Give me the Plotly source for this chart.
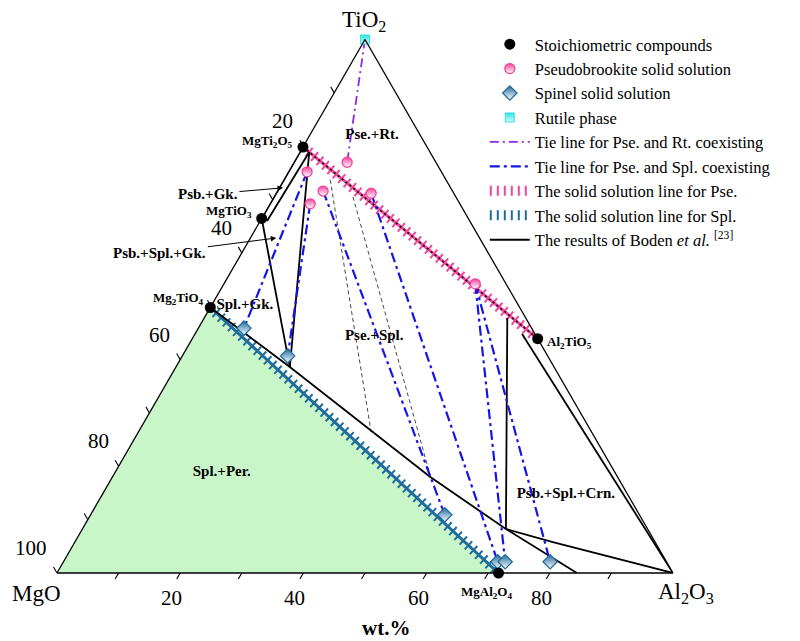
import math
import plotly.graph_objects as go

# ---------------- data (wt% TiO2, MgO, Al2O3) ----------------
# stoichiometric compounds
compound_names = ["MgTi<sub>2</sub>O<sub>5</sub>", "MgTiO<sub>3</sub>", "Mg<sub>2</sub>TiO<sub>4</sub>",
                  "Al<sub>2</sub>TiO<sub>5</sub>", "MgAl<sub>2</sub>O<sub>4</sub>"]
compound_tio2 = [79.85, 66.46, 49.77, 43.93, 0.0]
compound_mgo = [20.15, 33.54, 50.23, 0.0, 28.33]
compound_al2o3 = [0.0, 0.0, 0.0, 56.07, 71.67]

# pseudobrookite solid solution compositions
pse_tio2 = [77.0, 75.2, 71.6, 69.2, 71.2, 54.2]
pse_mgo = [14.4, 21.8, 21.0, 24.3, 13.4, 5.0]
pse_al2o3 = [8.6, 3.0, 7.4, 6.5, 15.4, 40.8]

# spinel solid solution compositions
spl_tio2 = [45.9, 40.7, 10.9, 2.1, 2.1, 2.1]
spl_mgo = [46.7, 42.2, 31.6, 27.4, 26.2, 18.9]
spl_al2o3 = [7.4, 17.1, 57.5, 70.5, 71.7, 79.0]

# rutile phase
rt_tio2 = [100.0]
rt_mgo = [0.0]
rt_al2o3 = [0.0]

# tie lines Pse.-Spl. (index into pse_*, index into spl_*)
tie_pse_idx = [1, 3, 2, 4, 5, 5]
tie_spl_idx = [0, 1, 2, 3, 4, 5]

# phase boundaries after Boden et al. (polylines)
boden_tio2 = [[79.85, 66.46], [78.9, 66.0], [66.46, 38.6], [78.9, 38.6],
              [49.77, 38.6, 18.0, 8.25, 0.0], [47.8, 8.25], [8.25, 5.8, 0.0], [44.8, 0.0]]
boden_mgo = [[20.15, 33.54], [19.6, 32.9], [33.54, 42.9], [19.6, 42.9],
             [50.23, 42.9, 30.4, 23.0, 15.6], [3.0, 23.0], [23.0, 16.6, 0.0], [2.1, 0.0]]
boden_al2o3 = [[0.0, 0.0], [1.5, 1.1], [0.0, 18.5], [1.5, 18.5],
               [0.0, 18.5, 51.6, 68.75, 84.4], [49.2, 68.75], [68.75, 77.6, 100.0], [53.1, 100.0]]

# thin dashed guide lines inside Pse.+Spl.
guide_tio2 = [[73.7, 26.4], [70.5, 17.8]]
guide_mgo = [[18.8, 35.8], [16.7, 30.4]]
guide_al2o3 = [[7.5, 37.8], [12.8, 51.8]]

# axis ticks and labels
mgo_tick_vals = [10, 20, 30, 40, 50, 60, 70, 80, 90, 100]
mgo_label_vals = [20, 40, 60, 80, 100]
al_tick_vals = [10, 20, 30, 40, 50, 60, 70, 80, 90]
al_label_vals = [20, 40, 60, 80]

# ---------------- styling ----------------
SERIF = "Liberation Serif, Times New Roman, serif"
PINK = "#f2449c"
SPL_BLUE = "#1f6c9c"
TIE_BLUE = "#1515e6"
PURPLE = "#8a2be2"
GREEN = "#c9f6c9"

# ternary placement (pixels within the 800 x 641 figure)
FIG_W, FIG_H = 800, 641
X0, YB, SIDE = 57.0, 573.0, 616.0
HEIGHT = SIDE * math.sqrt(3) / 2


def to_px(t, m, c):
    """composition (wt%) -> pixel position of the ternary frame"""
    return X0 + (c + t / 2) / 100 * SIDE, YB - t / 100 * HEIGHT


def to_paper(px, py):
    return px / FIG_W, 1 - py / FIG_H


def join(tl, ml, cl):
    a, b, c = [], [], []
    for t_, m_, c_ in zip(tl, ml, cl):
        a += list(t_) + [None]
        b += list(m_) + [None]
        c += list(c_) + [None]
    return a, b, c


fig = go.Figure()

# Spl.+Per. field
i_m2t, i_ma = 2, 4
fig.add_trace(go.Scatterternary(
    a=[compound_tio2[i_m2t], 0.0, compound_tio2[i_ma]],
    b=[compound_mgo[i_m2t], 100.0, compound_mgo[i_ma]],
    c=[compound_al2o3[i_m2t], 0.0, compound_al2o3[i_ma]],
    mode="lines", fill="toself", fillcolor=GREEN,
    line=dict(width=0, color="rgba(0,0,0,0)"),
    showlegend=False, hoverinfo="skip"))

# thin dashed guides
ga, gb, gc = join(guide_tio2, guide_mgo, guide_al2o3)
fig.add_trace(go.Scatterternary(
    a=ga, b=gb, c=gc, mode="lines",
    line=dict(color="#333333", width=0.9, dash="4px,3px"),
    showlegend=False, hoverinfo="skip"))


# solid solution lines (hatched)
def hatched(i0, i1, color, name, rank):
    a = [compound_tio2[i0], compound_tio2[i1]]
    b = [compound_mgo[i0], compound_mgo[i1]]
    c = [compound_al2o3[i0], compound_al2o3[i1]]
    fig.add_trace(go.Scatterternary(
        a=a, b=b, c=c, mode="lines", name=name, legendrank=rank,
        line=dict(color=color, width=11, dash="2px,5px"), hoverinfo="skip"))
    fig.add_trace(go.Scatterternary(
        a=a, b=b, c=c, mode="lines", showlegend=False,
        line=dict(color=color, width=3), hoverinfo="skip"))
    return a, b, c


pa, pb, pc = hatched(0, 3, PINK, "The solid solution line for Pse.", 7)
hatched(2, 4, SPL_BLUE, "The solid solution line for Spl.", 8)

# Boden boundary along the pseudobrookite line
fig.add_trace(go.Scatterternary(
    a=pa, b=pb, c=pc, mode="lines", showlegend=False,
    line=dict(color="black", width=1.6, dash="2px,3px"), hoverinfo="skip"))

# Boden phase boundaries
ba, bb, bc = join(boden_tio2, boden_mgo, boden_al2o3)
fig.add_trace(go.Scatterternary(
    a=ba, b=bb, c=bc, mode="lines", legendrank=9,
    name="The results of Boden <i>et al.</i> <sup>[23]</sup>",
    line=dict(color="black", width=1.8), hoverinfo="skip"))

# tie lines Pse.-Spl.
ta, tb, tc = [], [], []
for ip, js in zip(tie_pse_idx, tie_spl_idx):
    ta += [pse_tio2[ip], spl_tio2[js], None]
    tb += [pse_mgo[ip], spl_mgo[js], None]
    tc += [pse_al2o3[ip], spl_al2o3[js], None]
fig.add_trace(go.Scatterternary(
    a=ta, b=tb, c=tc, mode="lines", legendrank=6,
    name="Tie line for Pse. and Spl. coexisting",
    line=dict(color=TIE_BLUE, width=2.2, dash="10px,4px,3px,4px"), hoverinfo="skip"))

# tie line Pse.-Rt.
fig.add_trace(go.Scatterternary(
    a=[rt_tio2[0], pse_tio2[0]], b=[rt_mgo[0], pse_mgo[0]], c=[rt_al2o3[0], pse_al2o3[0]],
    mode="lines", legendrank=5, name="Tie line for Pse. and Rt. coexisting",
    line=dict(color=PURPLE, width=1.8, dash="9px,4px,2px,4px"), hoverinfo="skip"))

# phase points
fig.add_trace(go.Scatterternary(
    a=pse_tio2, b=pse_mgo, c=pse_al2o3, mode="markers", legendrank=2,
    name="Pseudobrookite solid solution", cliponaxis=False,
    marker=dict(symbol="circle", size=10, color=PINK,
                gradient=dict(type="vertical", color="white"),
                line=dict(color=PINK, width=1.3))))
fig.add_trace(go.Scatterternary(
    a=spl_tio2, b=spl_mgo, c=spl_al2o3, mode="markers", legendrank=3,
    name="Spinel solid solution", cliponaxis=False,
    marker=dict(symbol="diamond", size=11, color=SPL_BLUE,
                gradient=dict(type="vertical", color="white"),
                line=dict(color=SPL_BLUE, width=1.3))))
fig.add_trace(go.Scatterternary(
    a=rt_tio2, b=rt_mgo, c=rt_al2o3, mode="markers", legendrank=4,
    name="Rutile phase", cliponaxis=False,
    marker=dict(symbol="square", size=9, color="#2fe2e2",
                gradient=dict(type="vertical", color="#d8fbfb"),
                line=dict(color="#2fe2e2", width=1))))
fig.add_trace(go.Scatterternary(
    a=compound_tio2, b=compound_mgo, c=compound_al2o3, mode="markers", legendrank=1,
    name="Stoichiometric compounds", cliponaxis=False, text=compound_names,
    hoverinfo="text", marker=dict(symbol="circle", size=11, color="black")))

# phase field labels inside the triangle
field_text = ["Pse.+Rt.", "Spl.+Gk.", "Pse.+Spl.", "Spl.+Per.", "Psb.+Spl.+Crn."]
field_pos = [(82.1, 7.8, 10.1), (50.2, 44.4, 5.4), (44.4, 26.3, 29.3),
             (18.9, 63.8, 17.3), (14.8, 10.0, 75.2)]
fig.add_trace(go.Scatterternary(
    a=[p[0] for p in field_pos], b=[p[1] for p in field_pos], c=[p[2] for p in field_pos],
    mode="text", text=["<b>%s</b>" % s for s in field_text], textposition="middle center",
    textfont=dict(family=SERIF, size=15, color="black"), cliponaxis=False,
    showlegend=False, hoverinfo="skip"))

annotations = []
shapes = []

# compound labels, offset (px, y up) from each compound point
comp_label_shift = [(-35, 6), (-33, 7), (-32, 9), (32, -4), (-12, -19)]
for name, t, m, c, (dx, dy) in zip(compound_names, compound_tio2, compound_mgo,
                                   compound_al2o3, comp_label_shift):
    x, y = to_paper(*to_px(t, m, c))
    annotations.append(dict(x=x, y=y, xref="paper", yref="paper", xshift=dx, yshift=dy,
                            xanchor="center", yanchor="middle",
                            text="<b>%s</b>" % name, showarrow=False,
                            font=dict(family=SERIF, size=13, color="black")))

# narrow fields labelled with pointer arrows: (label, label position, arrow tip)
pointer_text = ["Psb.+Gk.", "Psb.+Spl.+Gk."]
pointer_label_pos = [(71.0, 40.0, -11.0), (60.0, 53.3, -13.3)]
pointer_tip_pos = [(72.2, 27.2, 0.6), (62.8, 33.0, 4.2)]
for txt, lab, tip in zip(pointer_text, pointer_label_pos, pointer_tip_pos):
    hx, hy = to_px(*tip)
    lx, ly = to_px(*lab)
    x, y = to_paper(hx, hy)
    annotations.append(dict(
        x=x, y=y, xref="paper", yref="paper", ax=lx - hx, ay=ly - hy,
        text="<b>%s</b>" % txt, showarrow=True, arrowhead=2, arrowsize=1.1,
        arrowwidth=1, arrowcolor="black", standoff=0,
        font=dict(family=SERIF, size=15, color="black")))

# corner labels
corner_text = ["TiO<sub>2</sub>", "MgO", "Al<sub>2</sub>O<sub>3</sub>"]
corner_comp = [(100, 0, 0), (0, 100, 0), (0, 0, 100)]
corner_shift = [(-1, 19), (-20, -20), (13, -20)]
for txt, comp, (dx, dy) in zip(corner_text, corner_comp, corner_shift):
    x, y = to_paper(*to_px(*comp))
    annotations.append(dict(x=x, y=y, xref="paper", yref="paper", xshift=dx, yshift=dy,
                            xanchor="center", yanchor="middle",
                            text=txt, showarrow=False,
                            font=dict(family=SERIF, size=23, color="black")))

# MgO ticks on the left edge, drawn outward along lines of constant MgO
TICK = 7.0
for v in mgo_tick_vals:
    px, py = to_px(100 - v, v, 0)
    x0, y0 = to_paper(px, py)
    x1, y1 = to_paper(px - 0.5 * TICK, py - 0.866 * TICK)
    shapes.append(dict(type="line", xref="paper", yref="paper", x0=x0, y0=y0, x1=x1, y1=y1,
                       line=dict(color="black", width=1.1)))
for v in mgo_label_vals:
    x, y = to_paper(*to_px(100 - v, v, 0))
    annotations.append(dict(x=x, y=y, xref="paper", yref="paper", xanchor="right",
                            yanchor="middle", xshift=-8, yshift=25, text=str(v),
                            showarrow=False, font=dict(family=SERIF, size=21, color="black")))

# Al2O3 ticks on the base, drawn outward along lines of constant Al2O3
for v in al_tick_vals:
    px, py = to_px(0, 100 - v, v)
    x0, y0 = to_paper(px, py)
    x1, y1 = to_paper(px - 0.5 * TICK, py + 0.866 * TICK)
    shapes.append(dict(type="line", xref="paper", yref="paper", x0=x0, y0=y0, x1=x1, y1=y1,
                       line=dict(color="black", width=1.1)))
for v in al_label_vals:
    x, y = to_paper(*to_px(0, 100 - v, v))
    annotations.append(dict(x=x, y=y, xref="paper", yref="paper", xanchor="center",
                            yanchor="middle", xshift=-8.5, yshift=-25, text=str(v),
                            showarrow=False, font=dict(family=SERIF, size=21, color="black")))

annotations.append(dict(
    x=386 / FIG_W, y=1 - 628 / FIG_H, xref="paper", yref="paper",
    xanchor="center", yanchor="middle",
    text="<b>wt.%</b>", showarrow=False, font=dict(family=SERIF, size=21, color="black")))

axis_style = dict(title=dict(text=""), showticklabels=False, ticks="", showgrid=False,
                  linecolor="black", linewidth=1.3, min=0)
fig.update_layout(
    width=FIG_W, height=FIG_H,
    margin=dict(l=0, r=0, t=0, b=0),
    paper_bgcolor="white",
    ternary=dict(
        sum=100,
        domain=dict(x=[X0 / FIG_W, (X0 + SIDE) / FIG_W],
                    y=[(FIG_H - YB) / FIG_H, (FIG_H - YB + HEIGHT) / FIG_H]),
        bgcolor="white",
        aaxis=axis_style, baxis=axis_style, caxis=axis_style),
    showlegend=True,
    legend=dict(x=0.606, y=0.958, xanchor="left", yanchor="top",
                bgcolor="rgba(0,0,0,0)", tracegroupgap=0, itemwidth=40,
                font=dict(family=SERIF, size=16.5, color="black")),
    annotations=annotations,
    shapes=shapes,
)

fig.write_html("out.html")
